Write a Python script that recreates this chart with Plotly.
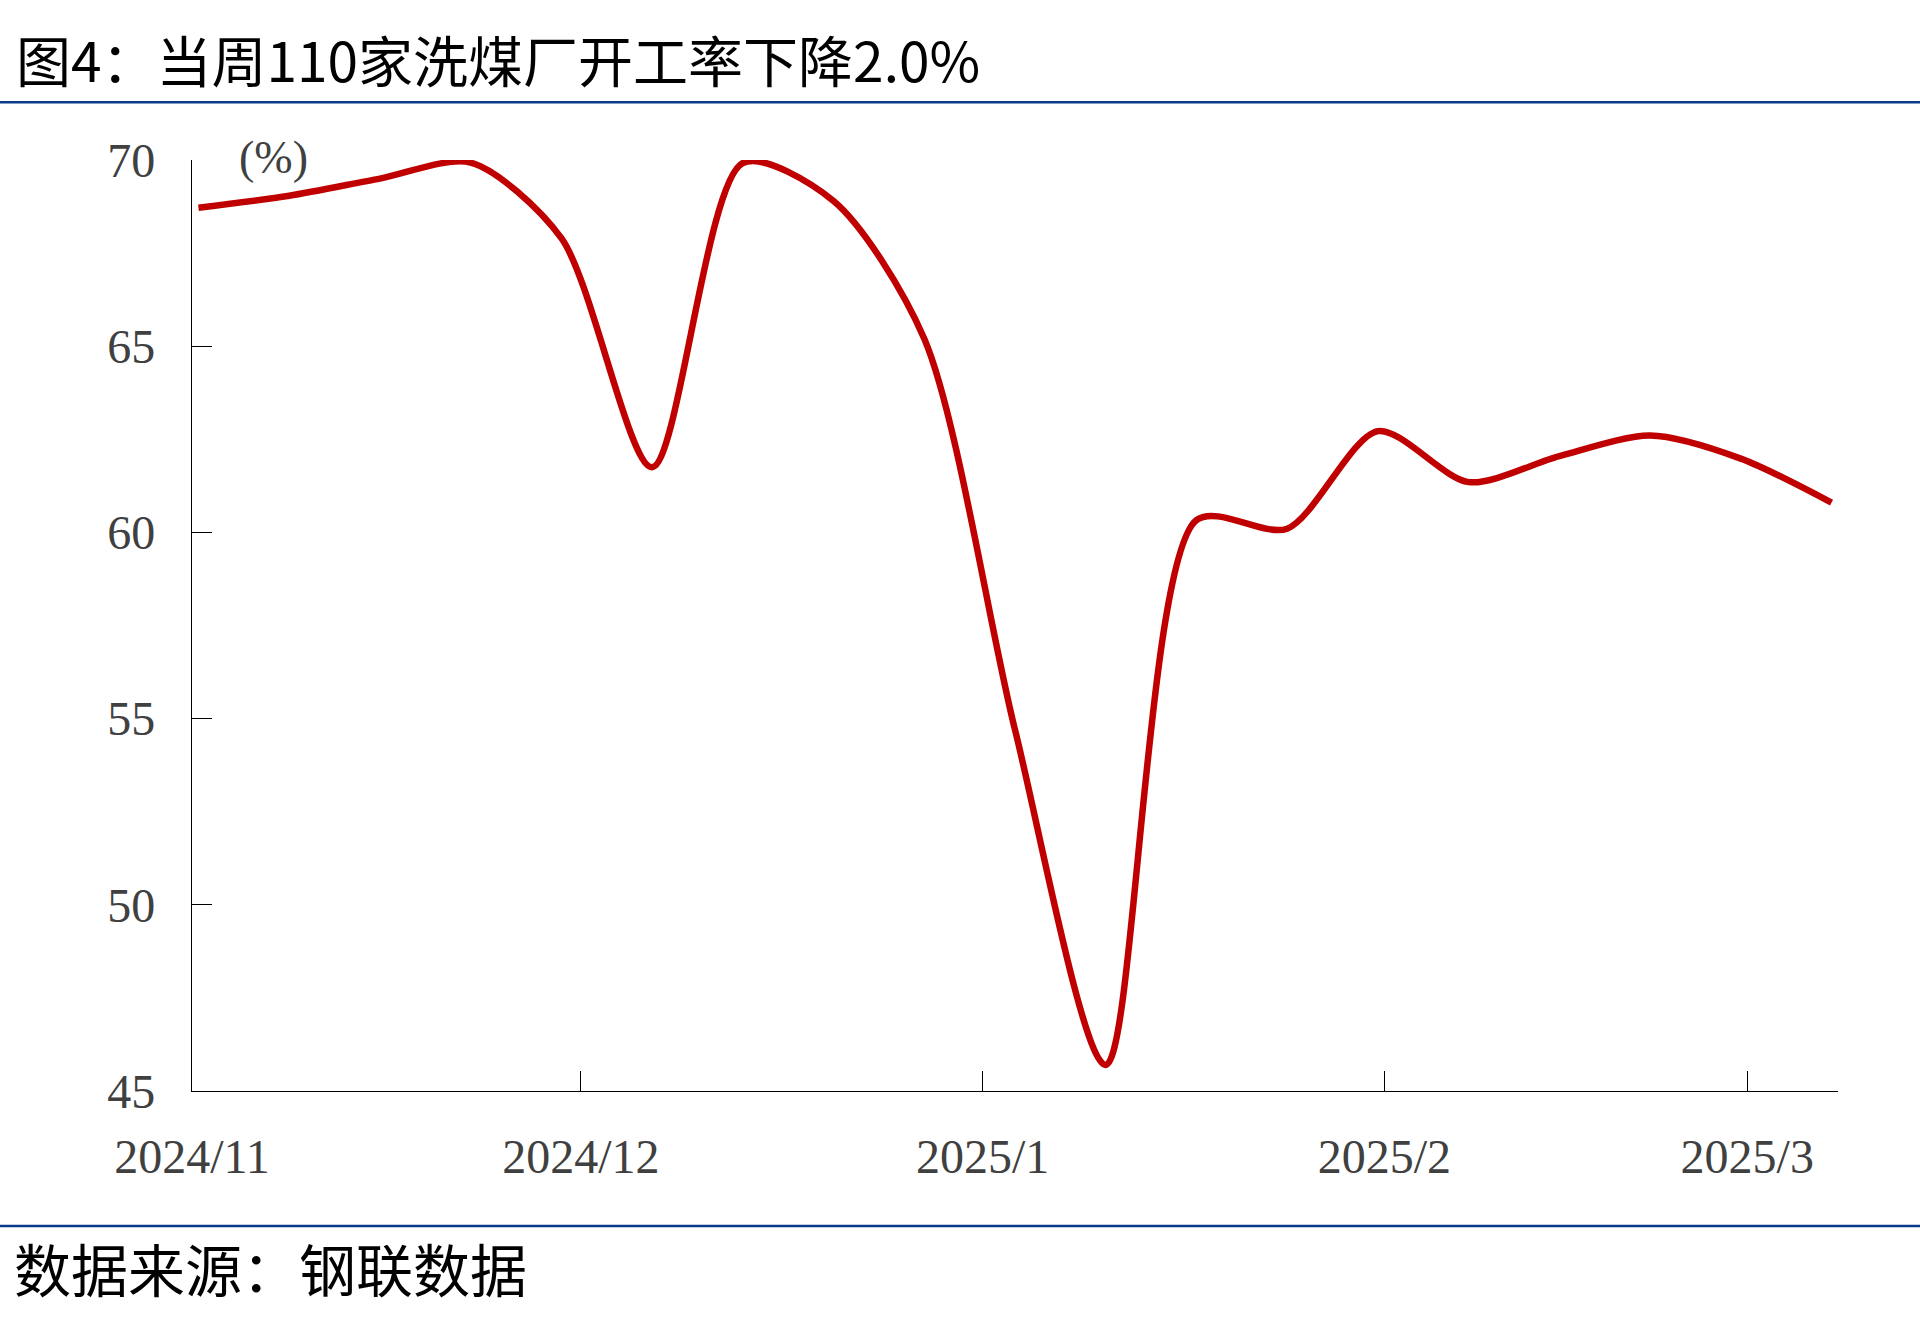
import pandas as pd
import plotly.graph_objects as go

# ---- data ----
dates = ["2024-11-01", "2024-11-08", "2024-11-15", "2024-11-22", "2024-11-29",
         "2024-12-06", "2024-12-13", "2024-12-20", "2024-12-27", "2025-01-03",
         "2025-01-10", "2025-01-17", "2025-01-24", "2025-01-31", "2025-02-07",
         "2025-02-14", "2025-02-21", "2025-02-28", "2025-03-07"]
rate = [68.72, 69.04, 69.50, 69.93, 67.90,
        61.75, 69.92, 68.90, 65.20, 54.70,
        45.70, 60.33, 60.10, 62.72, 61.35,
        62.05, 62.60, 61.98, 60.80]
tick_dates = ["2024-11-01", "2024-12-01", "2025-01-01", "2025-02-01", "2025-03-01"]
tick_labels = ["2024/11", "2024/12", "2025/1", "2025/2", "2025/3"]
y_ticks = [45, 50, 55, 60, 65, 70]

title_text = "图4：当周110家洗煤厂开工率下降2.0%"
source_text = "数据来源：钢联数据"
unit_text = "(%)"

# ---- layout geometry (pixels) ----
W, H = 1920, 1331
L, R, T, B = 192, 82, 159.5, 240
PW, PH = W - L - R, H - T - B


def px(x):
    return (x - L) / PW


def py(y):
    return (H - B - y) / PH


# points sit in the middle of their day (date axis, between tick marks)
x_vals = pd.to_datetime(dates) + pd.Timedelta(hours=12)

fig = go.Figure()
fig.add_trace(go.Scatter(
    x=x_vals, y=rate, mode="lines",
    line=dict(color="#C00000", width=6.5, shape="spline", smoothing=0.8),
    showlegend=False,
))

serif = "Liberation Serif, Times New Roman, serif"
cjk = "Noto Sans CJK SC, sans-serif"

fig.update_layout(
    width=W, height=H,
    margin=dict(l=L, r=R, t=T, b=B),
    paper_bgcolor="white", plot_bgcolor="white",
    xaxis=dict(
        type="date",
        range=["2024-11-01", "2025-03-08"],
        tickvals=pd.to_datetime(tick_dates), ticktext=tick_labels,
        ticks="inside", ticklen=20, tickwidth=1.3, tickcolor="black",
        showline=True, linecolor="black", linewidth=1.3,
        showgrid=False, zeroline=False,
        tickfont=dict(family=serif, size=48, color="#404040"),
        ticklabelstandoff=23,
    ),
    yaxis=dict(
        range=[45, 70], tickvals=y_ticks,
        ticks="inside", ticklen=20, tickwidth=1.3, tickcolor="black",
        showline=True, linecolor="black", linewidth=1.3,
        showgrid=False, zeroline=False,
        tickfont=dict(family=serif, size=48, color="#404040"),
        ticklabelstandoff=26,
    ),
)

# header / footer rules
for yy in (101.6, 1226):
    fig.add_shape(type="line", xref="paper", yref="paper",
                  x0=px(0), x1=px(W), y0=py(yy), y1=py(yy),
                  line=dict(color="#0B3A8A", width=2.5))

fig.add_annotation(text=title_text, xref="paper", yref="paper",
                   x=px(14), y=py(57), xanchor="left", yanchor="middle",
                   showarrow=False, font=dict(family=cjk, size=55, color="black"))
fig.add_annotation(text=source_text, xref="paper", yref="paper",
                   x=px(12), y=py(1267), xanchor="left", yanchor="middle",
                   showarrow=False, font=dict(family=cjk, size=57, color="black"))
fig.add_annotation(text=unit_text, xref="paper", yref="paper",
                   x=px(273), y=py(157), xanchor="center", yanchor="middle",
                   showarrow=False, font=dict(family=serif, size=46, color="#404040"))

fig.write_html("out.html",
               config={"displayModeBar": False},
               post_script="document.body.style.margin='0';document.body.style.overflow='hidden';")
